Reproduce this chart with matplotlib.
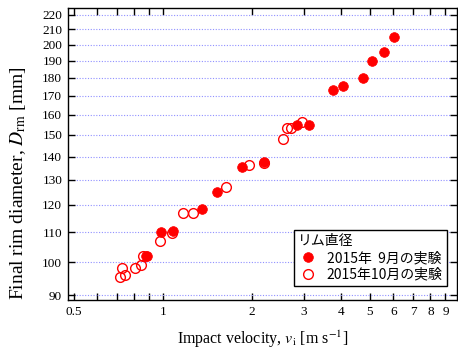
import matplotlib
matplotlib.use("Agg")
import matplotlib.pyplot as plt
from matplotlib.ticker import FixedLocator, FixedFormatter, NullLocator

# 2015年9月の実験 (filled)
sep_v = [0.875, 0.885, 0.99, 1.085, 1.358, 1.526, 1.845, 2.2, 2.84, 3.11,
         3.745, 4.05, 4.73, 5.09, 5.58, 6.03]
sep_d = [102, 102, 110.2, 110.4, 118.3, 124.9, 135.2, 137.6, 155, 154.8,
         173.2, 175.3, 180, 190, 195.2, 205]

# 2015年10月の実験 (open)
oct_v = [0.716, 0.729, 0.744, 0.804, 0.847, 0.858, 0.982, 1.075, 1.171, 1.266,
         1.632, 1.952, 2.2, 2.55, 2.63, 2.71, 2.96]
oct_d = [95.4, 98.0, 95.9, 98.0, 99.0, 102, 107, 109.6, 117, 117,
         127, 136.1, 137.3, 148, 153.1, 153.1, 156.5]

x_ticks = [0.5, 0.6, 0.7, 0.8, 0.9, 1, 2, 3, 4, 5, 6, 7, 8, 9]
x_labels = ["0.5", "", "", "", "", "1", "2", "3", "4", "5", "6", "7", "8", "9"]
y_ticks = [90, 100, 110, 120, 130, 140, 150, 160, 170, 180, 190, 200, 210, 220]

plt.rcParams["font.family"] = ["Liberation Serif", "DejaVu Serif"]
plt.rcParams["mathtext.fontset"] = "stix"

fig = plt.figure(figsize=(4.58, 3.53), dpi=100)
ax = fig.add_axes([0.148, 0.150, 0.850, 0.827])

ax.plot(oct_v, oct_d, "o", ms=7, mfc="none", mec="red", mew=1.0,
        label="2015年10月の実験", zorder=3)
ax.plot(sep_v, sep_d, "o", ms=7, mfc="red", mec="red", mew=0.5,
        label="2015年  9月の実験", zorder=4)

ax.set_xscale("log")
ax.set_yscale("log")
ax.set_xlim(0.478, 9.85)
ax.set_ylim(88.6, 224.7)

ax.xaxis.set_major_locator(FixedLocator(x_ticks))
ax.xaxis.set_major_formatter(FixedFormatter(x_labels))
ax.xaxis.set_minor_locator(NullLocator())
ax.yaxis.set_major_locator(FixedLocator(y_ticks))
ax.yaxis.set_major_formatter(FixedFormatter([str(t) for t in y_ticks]))
ax.yaxis.set_minor_locator(NullLocator())

ax.tick_params(direction="in", length=5, width=1, labelsize=9.5,
               top=True, right=True, pad=4)
ax.grid(axis="y", color="#9090ff", linestyle=(0, (1, 1.5)), linewidth=0.8)
for s in ax.spines.values():
    s.set_linewidth(1)

ax.set_xlabel("Impact velocity, $v_{\\rm i}$ [m s$^{-1}$]", fontsize=11.5, labelpad=8)
ax.set_ylabel("Final rim diameter, $D_{\\rm rm}$ [mm]", fontsize=14)
ax.yaxis.set_label_coords(-0.103, 0.40)

handles, labels = ax.get_legend_handles_labels()
leg = ax.legend(handles[::-1], labels[::-1], title="リム直径", loc="lower right",
                bbox_to_anchor=(0.974, 0.048), borderaxespad=0,
                prop={"family": ["Noto Sans CJK JP", "DejaVu Sans"], "size": 10},
                fancybox=False, edgecolor="black", framealpha=1,
                handletextpad=0.6, borderpad=0.3, labelspacing=0.2,
                handlelength=1.5)
leg.get_title().set_fontfamily(["Noto Sans CJK JP", "DejaVu Sans"])
leg.get_title().set_fontsize(10)
leg._legend_box.align = "left"
leg.get_frame().set_linewidth(1)

fig.savefig("out.png", dpi=100)
